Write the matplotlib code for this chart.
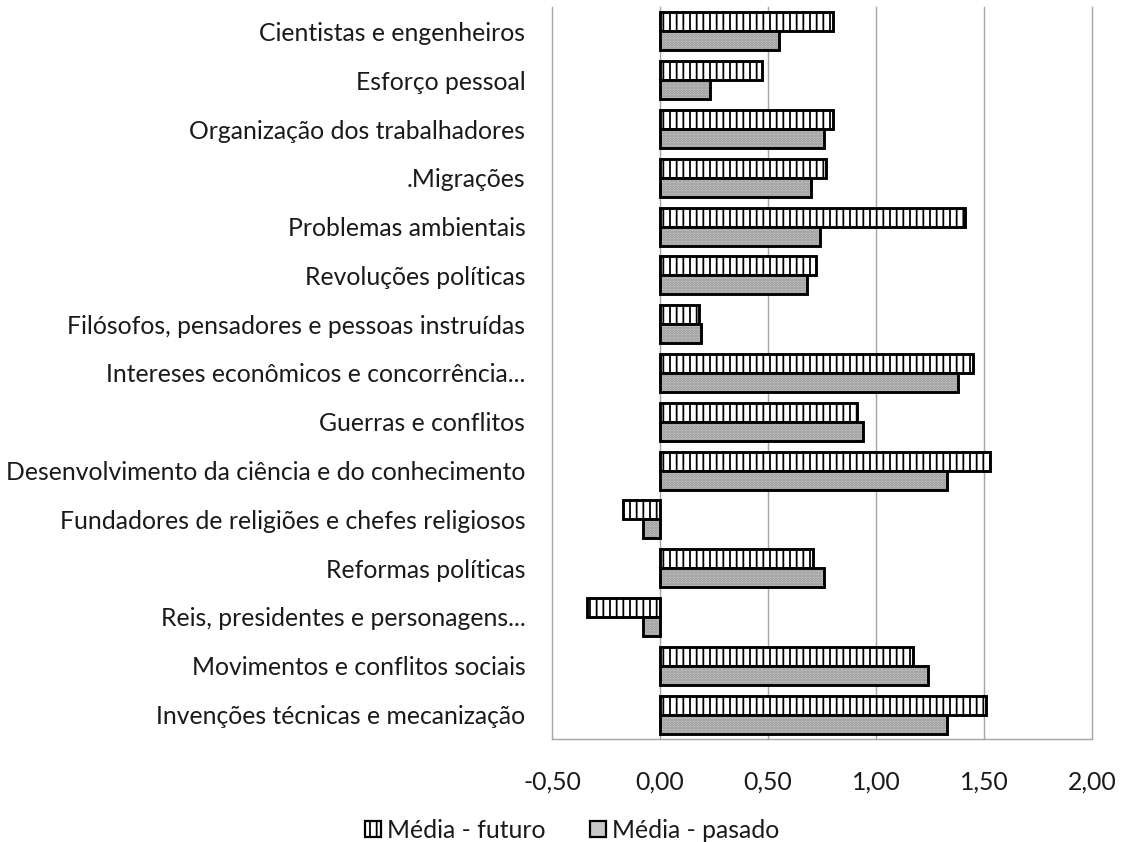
import matplotlib
matplotlib.use("Agg")
import matplotlib.pyplot as plt
import matplotlib.patches as mpatches
import numpy as np

categories = [
    "Invenções técnicas e mecanização",
    "Movimentos e conflitos sociais",
    "Reis, presidentes e personagens...",
    "Reformas políticas",
    "Fundadores de religiões e chefes religiosos",
    "Desenvolvimento da ciência e do conhecimento",
    "Guerras e conflitos",
    "Intereses econômicos e concorrência...",
    "Filósofos, pensadores e pessoas instruídas",
    "Revoluções políticas",
    "Problemas ambientais",
    ".Migrações",
    "Organização dos trabalhadores",
    "Esforço pessoal",
    "Cientistas e engenheiros",
]
futuro = [1.51, 1.17, -0.34, 0.71, -0.17, 1.53, 0.91, 1.45, 0.18, 0.72, 1.41, 0.77, 0.80, 0.47, 0.80]
pasado = [1.33, 1.24, -0.08, 0.76, -0.08, 1.33, 0.94, 1.38, 0.19, 0.68, 0.74, 0.70, 0.76, 0.23, 0.55]
series_names = ["Média - futuro", "Média - pasado"]
xticks = [-0.5, 0.0, 0.5, 1.0, 1.5, 2.0]
xtick_labels = ["-0,50", "0,00", "0,50", "1,00", "1,50", "2,00"]

DPI = 80
W, H = 1121, 842
plt.rcParams['font.family'] = ['Lato', 'DejaVu Sans']
plt.rcParams['hatch.linewidth'] = 1.6
FS = 22.3
TC = "#1a1a1a"

fig = plt.figure(figsize=(W / DPI, H / DPI), dpi=DPI)
ax = fig.add_axes([552 / W, (H - 739) / H, (1092 - 552) / W, (739 - 7) / H])

y = np.arange(len(categories))
h = 0.39

# futuro: white with vertical black lines
ax.barh(y + h / 2, futuro, height=h, color="white", edgecolor="black",
        hatch="||", linewidth=2.6, zorder=3)
# pasado: gray with dots
ax.barh(y - h / 2, pasado, height=h, color="#c8c8c8", edgecolor="#8c8c8c",
        hatch=".....", linewidth=0, zorder=3)
ax.barh(y - h / 2, pasado, height=h, fill=False, edgecolor="black",
        linewidth=2.6, zorder=4)

ax.set_xlim(-0.5, 2.0)
ax.set_ylim(-0.5, len(categories) - 0.5)
ax.set_xticks(xticks)
ax.set_xticklabels(xtick_labels, fontsize=FS, color=TC)
ax.set_yticks(y)
ax.set_yticklabels(categories, fontsize=FS, color=TC)
ax.tick_params(axis="y", length=0, pad=24)
ax.tick_params(axis="x", length=0, pad=28)

for x in xticks:
    ax.axvline(x, color="#a6a6a6", linewidth=1.3, zorder=1, clip_on=False)

for s in ["top", "right", "left"]:
    ax.spines[s].set_visible(False)
ax.spines["bottom"].set_color("#a6a6a6")
ax.spines["bottom"].set_linewidth(1.3)

h1 = mpatches.Patch(facecolor="white", edgecolor="black", hatch="||", linewidth=2.0)
h2 = mpatches.Patch(facecolor="#c8c8c8", edgecolor="black", linewidth=2.0)
leg = fig.legend([h1, h2], series_names, loc="center", ncol=2,
                 bbox_to_anchor=(572 / W, 1 - 830 / H), frameon=False,
                 fontsize=FS, handlelength=0.65, handleheight=0.65,
                 handletextpad=0.25, columnspacing=1.8)
for t in leg.get_texts():
    t.set_color(TC)

fig.savefig("out.png", dpi=DPI)
